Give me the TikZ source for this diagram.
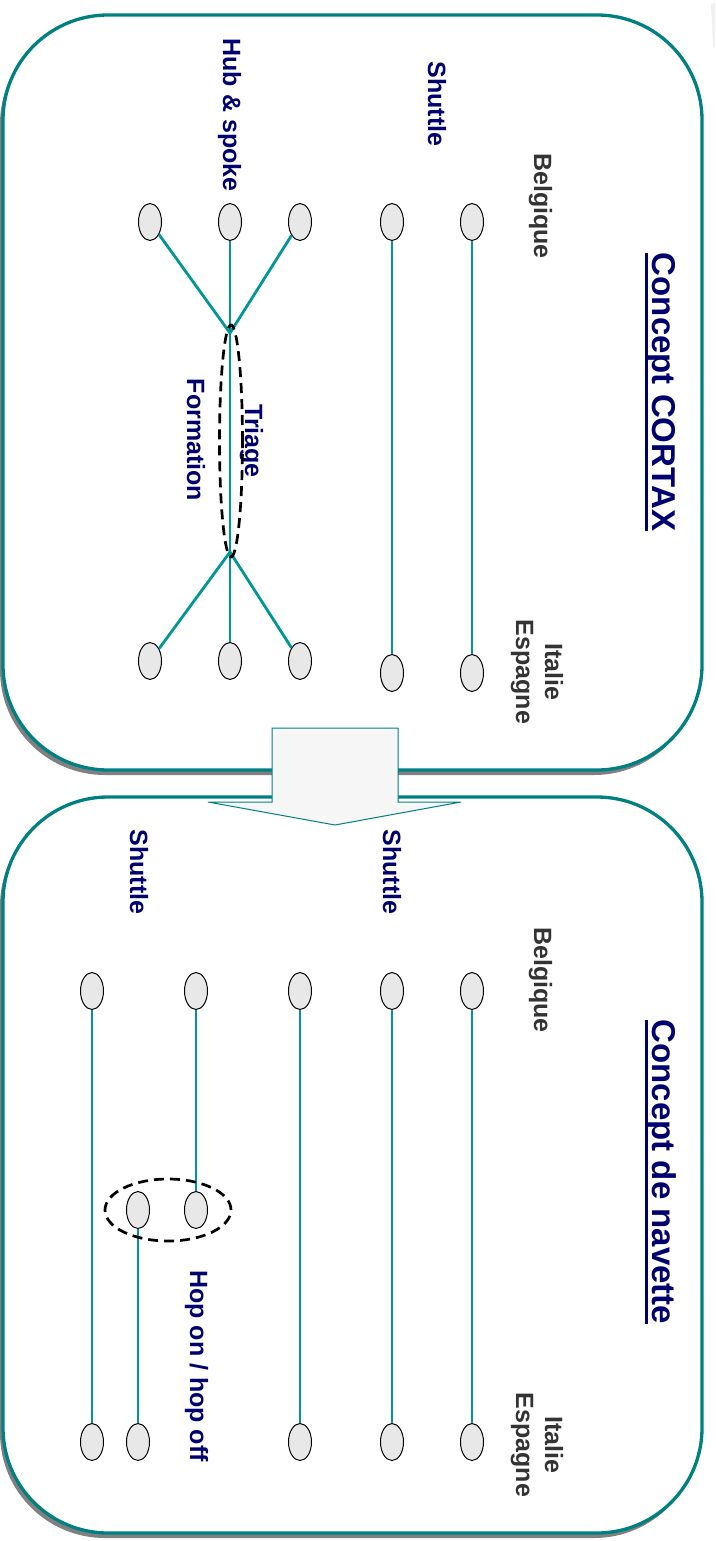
\documentclass[tikz,border=0pt]{standalone}
\usepackage{fontspec}
\setmainfont{Liberation Sans}
\usetikzlibrary{shapes.geometric}
\definecolor{boxteal}{RGB}{0,128,128}
\definecolor{lineteal}{RGB}{0,150,150}
\definecolor{navytxt}{RGB}{0,0,110}
\definecolor{graytxt}{RGB}{51,51,51}
\definecolor{dotfill}{RGB}{232,232,232}
\definecolor{shadowgray}{RGB}{128,128,128}
\definecolor{arrowfill}{RGB}{246,246,246}
\newcommand\thickul[1]{\setbox0\hbox{#1}\rlap{\rule[-7pt]{\wd0}{3pt}}\box0}
\tikzset{
  panel/.style={draw=boxteal, line width=3.3pt, fill=white, rounded corners=105pt},
  panelshadow/.style={fill=shadowgray, rounded corners=105pt},
  dot/.style={ellipse, draw=black, line width=1pt, fill=dotfill, minimum width=23pt, minimum height=37pt, inner sep=0pt},
  link/.style={draw=lineteal, line width=2.8pt},
  lbl/.style={font=\fontsize{25}{29}\selectfont\bfseries, rotate=-90, inner sep=0pt},
  navylbl/.style={lbl, text=navytxt, anchor=base},
  graylbl/.style={lbl, text=graytxt},
  titlelbl/.style={font=\fontsize{33}{38}\selectfont\bfseries, text=navytxt, rotate=-90, inner sep=0pt, anchor=base},
  dashring/.style={draw=black, line width=2.7pt, dash pattern=on 10pt off 6pt},
  bigarrow/.style={draw=boxteal, line width=1pt, fill=arrowfill}
}
\begin{document}
\begin{tikzpicture}[x=1pt,y=-1pt]
\useasboundingbox (0,0) rectangle (715,1541);
% faint artifact top right
\fill[gray!12] (711,4) -- (715,3) -- (715,48) -- (713,46) -- cycle;
% panels
\fill[panelshadow] (0,19) rectangle (699,775);
\draw[panel] (3,15) rectangle (702,770);
\fill[panelshadow] (0,801) rectangle (699,1538);
\draw[panel] (3,797) rectangle (702,1533);
% transition arrow
\draw[bigarrow] (272,728) -- (398,728) -- (398,802) -- (461,802) -- (335,825) -- (208,802) -- (272,802) -- cycle;

% ===== Top panel: Concept CORTAX =====
\node[titlelbl] (t1) at (652,392) {\thickul{Concept CORTAX}};
\node[graylbl, anchor=base] (bel1) at (534,206) {Belgique};
\node[graylbl, align=center] (ita1) at (537,672) {Italie\\Espagne};
\node[navylbl] (shu1) at (428,104) {Shuttle};
\node[navylbl] (hub) at (223,115) {Hub \& spoke};
\node[navylbl] (tri) at (245,441) {Triage};
\node[navylbl] (for) at (187,440) {Formation};

\node[dot] (a1) at (150,222) {};
\node[dot] (a2) at (230,222) {};
\node[dot] (a3) at (300,222) {};
\node[dot] (a4) at (392,222) {};
\node[dot] (a5) at (472,222) {};
\node[dot] (b1) at (150,661) {};
\node[dot] (b2) at (230,661) {};
\node[dot] (b3) at (300,661) {};
\node[dot] (b4) at (392,673) {};
\node[dot] (b5) at (472,673) {};
\coordinate (j1) at (230,333);
\coordinate (j2) at (230,552);

\draw[link] (a1) -- (j1);
\draw[link] (a3) -- (j1);
\draw[link] (a2) -- (b2);
\draw[link] (j2) -- (b1);
\draw[link] (j2) -- (b3);
\draw[link] (a4) -- (b4);
\draw[link] (a5) -- (b5);
\node[dashring, ellipse, minimum width=23pt, minimum height=232pt, inner sep=0pt] (ring1) at (231,441) {};

% ===== Bottom panel: Concept de navette =====
\node[titlelbl] (t2) at (652,1172) {\thickul{Concept de navette}};
\node[graylbl, anchor=base] (bel2) at (534,980) {Belgique};
\node[graylbl, align=center] (ita2) at (537,1445) {Italie\\Espagne};
\node[navylbl] (shu2) at (383,872) {Shuttle};
\node[navylbl] (shu3) at (130,872) {Shuttle};
\node[navylbl] (hop) at (190,1366) {Hop on / hop off};

\node[dot] (c1) at (92,991) {};
\node[dot] (c2) at (196,991) {};
\node[dot] (c3) at (300,991) {};
\node[dot] (c4) at (392,991) {};
\node[dot] (c5) at (472,991) {};
\node[dot] (m1) at (138,1210) {};
\node[dot] (m2) at (196,1210) {};
\node[dot] (d1) at (92,1442) {};
\node[dot] (d2) at (138,1442) {};
\node[dot] (d3) at (300,1442) {};
\node[dot] (d4) at (392,1442) {};
\node[dot] (d5) at (472,1442) {};

\draw[link] (c1) -- (d1);
\draw[link] (c2) -- (m2);
\draw[link] (m1) -- (d2);
\draw[link] (c3) -- (d3);
\draw[link] (c4) -- (d4);
\draw[link] (c5) -- (d5);
\node[dashring, ellipse, minimum width=126pt, minimum height=62pt, inner sep=0pt] (ring2) at (168,1210) {};
\end{tikzpicture}
\end{document}
